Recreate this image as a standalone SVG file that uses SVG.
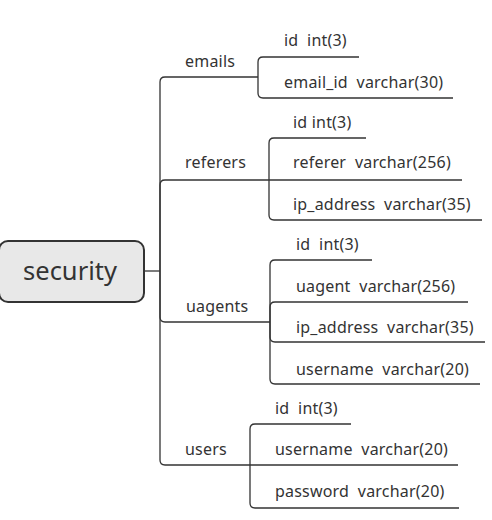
<svg xmlns="http://www.w3.org/2000/svg" width="492" height="520" viewBox="0 0 492 520">
<style>
text{font-family:"Noto Sans","Open Sans",sans-serif;font-size:16px;letter-spacing:0.2px;fill:#333;white-space:pre}
.root{font-size:25.5px;letter-spacing:0}
.c{fill:none;stroke:#333;stroke-width:1.3}
</style>
<rect width="492" height="520" fill="#fff"/>
<g id="connectors">
<path class="c" d="M144,271H160"/>
<path class="c" d="M160,271V82Q160,77 165,77H258"/>
<path class="c" d="M160,271V185Q160,180 165,180H269"/>
<path class="c" d="M160,271V317Q160,322 165,322H270"/>
<path class="c" d="M160,271V460Q160,465 165,465H250"/>
<path class="c" d="M258,77V62Q258,57 263,57H359"/>
<path class="c" d="M258,77V93Q258,98 263,98H453"/>
<path class="c" d="M269,180V143Q269,138 274,138H366"/>
<path class="c" d="M269,180H462"/>
<path class="c" d="M269,180V215Q269,220 274,220H482"/>
<path class="c" d="M270,322V265Q270,260 275,260H372"/>
<path class="c" d="M270,322V307Q270,302 275,302H468"/>
<path class="c" d="M270,322V337Q270,342 275,342H485"/>
<path class="c" d="M270,322V379Q270,384 275,384H480"/>
<path class="c" d="M250,465V429Q250,424 255,424H351"/>
<path class="c" d="M250,465H458"/>
<path class="c" d="M250,465V503Q250,508 255,508H459"/>
</g>
<g id="security">
<rect x="-1" y="241" width="145" height="61" rx="9" fill="#e8e8e8" stroke="#333" stroke-width="2"/>
<text class="root" x="70" y="280" text-anchor="middle">security</text>
</g>
<g id="emails"><text x="185" y="67">emails</text></g>
<g id="emails-id"><text x="284" y="46">id  int(3)</text></g>
<g id="emails-email_id"><text x="284" y="88">email_id  varchar(30)</text></g>
<g id="referers"><text x="185" y="168">referers</text></g>
<g id="referers-id"><text x="293" y="128">id int(3)</text></g>
<g id="referers-referer"><text x="293" y="168">referer  varchar(256)</text></g>
<g id="referers-ip_address"><text x="293" y="210">ip_address  varchar(35)</text></g>
<g id="uagents"><text x="186" y="312">uagents</text></g>
<g id="uagents-id"><text x="296" y="250">id  int(3)</text></g>
<g id="uagents-uagent"><text x="296" y="292">uagent  varchar(256)</text></g>
<g id="uagents-ip_address"><text x="296" y="333">ip_address  varchar(35)</text></g>
<g id="uagents-username"><text x="296" y="375">username  varchar(20)</text></g>
<g id="users"><text x="185" y="455">users</text></g>
<g id="users-id"><text x="275" y="414">id  int(3)</text></g>
<g id="users-username"><text x="275" y="455">username  varchar(20)</text></g>
<g id="users-password"><text x="275" y="497">password  varchar(20)</text></g>
</svg>
